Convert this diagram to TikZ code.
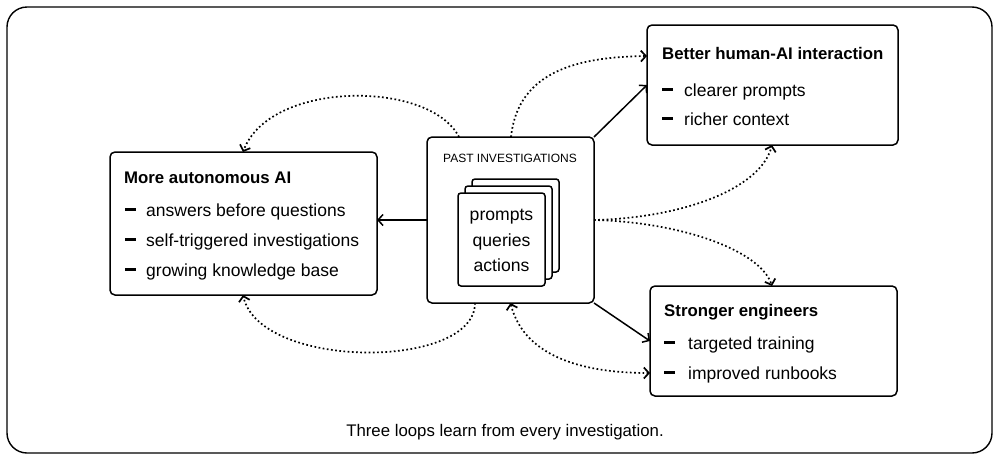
\documentclass[tikz,border=0pt]{standalone}
\usepackage{fontspec}
\setmainfont{Liberation Sans}
\usetikzlibrary{arrows.meta}
\begin{document}
\begin{tikzpicture}[x=1pt,y=-1pt,
  box/.style={draw, line width=1.5pt, rounded corners=5pt, inner sep=0pt, outer sep=0pt, anchor=north west},
  card/.style={draw, fill=white, line width=1.5pt, rounded corners=3pt, inner sep=0pt, outer sep=0pt, anchor=north west, minimum width=87pt, minimum height=93pt},
  ttl/.style={inner sep=0pt, anchor=base west, font=\fontsize{16.8}{20}\selectfont\bfseries},
  itm/.style={inner sep=0pt, anchor=base west, font=\fontsize{17.5}{21}\selectfont},
  dsh/.style={fill=black, inner sep=0pt, minimum width=11pt, minimum height=2.1pt},
  hdr/.style={inner sep=0pt, anchor=base, font=\fontsize{12}{14}\selectfont},
  ctx/.style={inner sep=0pt, anchor=base, font=\fontsize{17.6}{21}\selectfont},
  captext/.style={inner sep=0pt, anchor=base, font=\fontsize{16.8}{20}\selectfont},
  solidarrow/.style={line width=1.5pt, -{Straight Barb[length=5pt,width=11pt]}},
  loop/.style={line width=1.7pt, dash pattern=on 1.7pt off 2.5pt, -{Straight Barb[length=5pt,width=11pt]}},
  loopboth/.style={line width=1.7pt, dash pattern=on 1.7pt off 2.5pt, {Straight Barb[length=5pt,width=11pt]}-{Straight Barb[length=5pt,width=11pt]}}
]
\useasboundingbox (0,0) rectangle (1000,461);
\draw[line width=1.4pt, rounded corners=20pt] (7,7) rectangle (992,453);

% boxes
\node[box, minimum width=267pt, minimum height=143pt] (L) at (110,152) {};
\node[box, minimum width=167pt, minimum height=166pt] (C) at (427,137) {};
\node[box, minimum width=251pt, minimum height=120pt] (TR) at (647,25) {};
\node[box, minimum width=247pt, minimum height=110pt] (BR) at (650,286) {};

% left box text
\node[ttl] (Lt) at (124,183) {More autonomous AI};
\node[dsh] (Ld1) at (130.5,209.5) {};
\node[itm] (L1) at (146,216) {answers before questions};
\node[dsh] (Ld2) at (130.5,239.5) {};
\node[itm] (L2) at (146,246) {self-triggered investigations};
\node[dsh] (Ld3) at (130.5,269.5) {};
\node[itm] (L3) at (146,276) {growing knowledge base};

% top right text
\node[ttl] (Tt) at (662,59.3) {Better human-AI interaction};
\node[dsh] (Td1) at (667.5,89.5) {};
\node[itm] (T1) at (684,96) {clearer prompts};
\node[dsh] (Td2) at (667.5,118.5) {};
\node[itm] (T2) at (684,125) {richer context};

% bottom right text
\node[ttl] (Bt) at (664,316.7) {Stronger engineers};
\node[dsh] (Bd1) at (669.5,342.5) {};
\node[itm] (B1) at (688,349) {targeted training};
\node[dsh] (Bd2) at (669.5,372.5) {};
\node[itm] (B2) at (688,379) {improved runbooks};

% center
\node[hdr] (Ch) at (510,162.3) {PAST INVESTIGATIONS};
\node[card] (K3) at (472,179) {};
\node[card] (K2) at (465,186) {};
\node[card] (K1) at (458,193) {};
\node[ctx] (Kp) at (501.5,220.7) {prompts};
\node[ctx] (Kq) at (501.5,246.7) {queries};
\node[ctx] (Ka) at (501.5,271.7) {actions};

% caption
\node[captext] (cp) at (505,436.7) {Three loops learn from every investigation.};

% solid arrows
\draw[solidarrow] (C.west) -- (C.west -| L.east);
\draw[solidarrow] (C.north east) -- (TR.west);
\draw[solidarrow] (C.south east) -- (BR.west);

% dotted loops
\draw[loop] ([xshift=32pt]C.north west) .. controls (430,80) and (270,80) .. ([xshift=133pt]L.north west);
\draw[loop] ([xshift=48pt]C.south west) .. controls (475,370) and (260,370) .. ([xshift=133pt]L.south west);
\draw[loop] ([xshift=84pt]C.north west) .. controls (518,70) and (580,57) .. ([yshift=-31pt]TR.north west);
\draw[loop] (C.east) .. controls (680,218) and (760,190) .. ([xshift=125pt]TR.south west);
\draw[loop] (C.east) .. controls (680,222) and (760,250) .. ([xshift=122pt]BR.north west);
\draw[loopboth] (C.south) .. controls (525,360) and (590,373) .. ([yshift=-87pt]BR.north west);
\end{tikzpicture}
\end{document}
